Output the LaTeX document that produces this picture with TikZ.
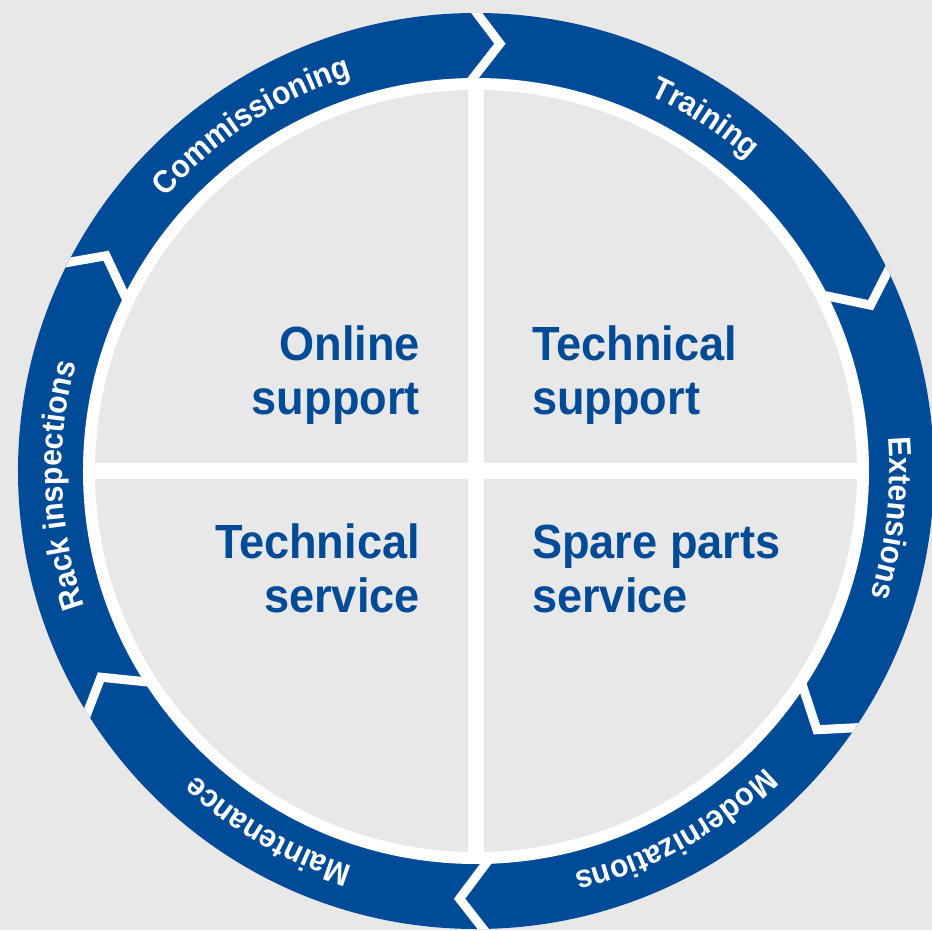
\documentclass[tikz,border=0pt]{standalone}
\usepackage{fontspec}
\setmainfont[FakeStretch=0.94]{Liberation Sans}
\usetikzlibrary{decorations.text}
\definecolor{ringblue}{RGB}{0,75,151}
\definecolor{panelgrey}{RGB}{232,232,232}
\def\ringfont{\fontsize{32}{32}\selectfont\bfseries\color{white}}
\def\chevron(#1){\draw[line width=9, white, miter limit=10] (#1:470) -- ({#1-4.2}:428) -- (#1:388);}
\def\ringtext(#1)(#2){\path[decorate, decoration={text along path, text={|\ringfont|#2}, text align=center}] ({#1+30}:414) arc ({#1+30}:{#1-30}:414);}

\begin{document}
\begin{tikzpicture}[x=1pt, y=1pt]
			%%%%% START %%%%%
			
			\fill[panelgrey] (-476, -459) rectangle (456, 471);
			\useasboundingbox (-476, -459) rectangle (456, 471);
			
			\fill[ringblue] (0, 0) circle (458);
			\begin{scope}
				\clip (0, 0) circle (458);
				\chevron(91)
				\chevron(27)
				\chevron(-33)
				\chevron(-88)
				\chevron(-147)
				\chevron(154)
			\end{scope}
			
			\fill[white] (0, 0) circle (393);
			\fill[panelgrey] (0, 0) circle (381);
			\draw[line width=16, white] (0, 390) -- (0, -390);
			\draw[line width=16, white] (-390, 0) -- (390, 0);
			
			\ringtext(123)(Commissioning)
			\ringtext(57)(Training)
			\ringtext(-6.5)(Extensions)
			\ringtext(-61)(Modernizations)
			\ringtext(-120)(Maintenance)
			\ringtext(182)(Rack inspections)
			
			\node (online) [anchor=base east, align=right, inner sep=0, text=ringblue, font=\fontsize{48}{54}\selectfont\bfseries] at (-56, 57) {Online\\support};
			\node (techsup) [anchor=base west, align=left, inner sep=0, text=ringblue, font=\fontsize{48}{54}\selectfont\bfseries] at (56, 57) {Technical\\support};
			\node (techserv) [anchor=base east, align=right, inner sep=0, text=ringblue, font=\fontsize{48}{54}\selectfont\bfseries] at (-56, -141) {Technical\\service};
			\node (spare) [anchor=base west, align=left, inner sep=0, text=ringblue, font=\fontsize{48}{54}\selectfont\bfseries] at (56, -141) {Spare parts\\service};
			
			%%%%% END %%%%%
\end{tikzpicture}
\end{document}
